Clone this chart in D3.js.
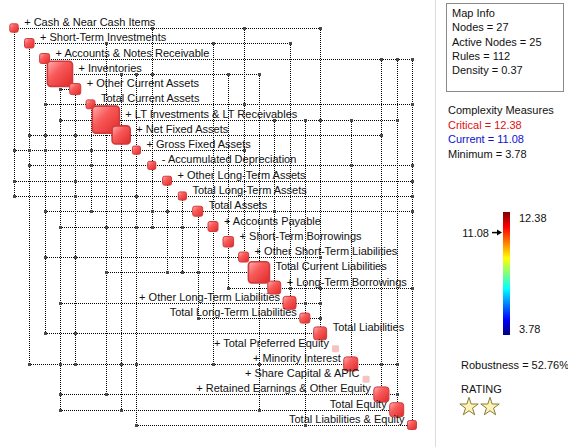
<!DOCTYPE html>
<html>
<head>
<meta charset="utf-8">
<script src="https://cdn.jsdelivr.net/npm/d3@7"></script>
<style>
body { margin: 0; background: #fff; }
svg { display: block; font-family: "Liberation Sans", Arial, sans-serif; }
</style>
</head>
<body>
<div id="chart"></div>
<script>
const width = 568
const height = 447

// nodes, in map order
const nodeNames = [
    'Cash & Near Cash Items', 'Short-Term Investments', 'Accounts & Notes Receivable', 'Inventories',
    'Other Current Assets', 'Total Current Assets', 'LT Investments & LT Receivables', 'Net Fixed Assets',
    'Gross Fixed Assets', 'Accumulated Depreciation', 'Other Long-Term Assets', 'Total Long-Term Assets',
    'Total Assets', 'Accounts Payable', 'Short-Term Borrowings', 'Other Short-Term Liabilities',
    'Total Current Liabilities', 'Long-Term Borrowings', 'Other Long-Term Liabilities', 'Total Long-Term Liabilities',
    'Total Liabilities', 'Total Preferred Equity', 'Minority Interest', 'Share Capital & APIC',
    'Retained Earnings & Other Equity', 'Total Equity', 'Total Liabilities & Equity'
]
const nodeSign = ['+', '+', '+', '+', '+', '', '+', '+', '+', '-', '+', '', '', '+', '+', '+', '', '+', '+', '', '', '+', '+', '+', '+', '', '']
const nodeWeight = [0.31, 0.35, 0.37, 0.93, 0.41, 0.33, 1.0, 0.67, 0.30, 0.30, 0.33, 0.30, 0.37, 0.37,
    0.39, 0.37, 0.78, 0.48, 0.48, 0.37, 0.48, 0.26, 0.52, 0.26, 0.56, 0.52, 0.33]
const inactiveNodes = [22, 24]

// rules: [row node, column node]
const links = [
    [1, 10], [1, 16], [1, 21],
    [2, 7], [2, 14], [2, 19],
    [3, 25], [3, 26], [3, 27],
    [4, 8], [4, 9], [4, 10], [4, 15], [4, 17],
    [5, 4],
    [6, 3], [6, 16], [6, 27],
    [7, 4], [7, 18], [7, 20], [7, 21], [7, 23], [7, 26],
    [8, 2], [8, 3], [8, 5], [8, 25],
    [9, 1], [9, 2], [9, 3], [9, 6], [9, 16],
    [10, 2], [10, 6], [10, 23], [10, 27],
    [11, 1], [11, 5], [11, 27],
    [12, 1], [12, 5], [12, 9], [12, 27],
    [13, 3], [13, 6], [13, 10], [13, 11], [13, 18], [13, 27],
    [14, 4], [14, 7], [14, 9], [14, 10], [14, 12],
    [16, 3], [16, 5], [16, 21],
    [17, 7], [17, 11], [17, 12], [17, 13],
    [18, 15], [18, 19], [18, 21], [18, 27],
    [19, 4], [19, 20], [19, 21],
    [20, 13], [20, 21],
    [21, 3], [21, 5],
    [23, 2], [23, 4], [23, 5], [23, 8], [23, 9], [23, 14], [23, 17], [23, 25], [23, 26],
    [25, 4], [25, 7], [25, 26],
    [26, 4], [26, 8], [26, 17],
    [27, 9], [27, 20]
]

const mapInfo = ['Map Info', 'Nodes = 27', 'Active Nodes = 25', 'Rules = 112', 'Density = 0.37']
const criticalC = 12.38
const currentC = 11.08
const minimumC = 3.78
const robustness = 52.76
const stars = 2

// labels drawn on the left of the node
const leftLabels = [19, 20, 22, 23, 24, 25, 26, 27]

const svg = d3.select('#chart')
    .append('svg')
    .attr('width', width)
    .attr('height', height)

const defs = svg.append('defs')
const grad = defs.append('linearGradient')
    .attr('id', 'nodeFill')
    .attr('x1', '0%').attr('y1', '0%').attr('x2', '100%').attr('y2', '100%')
grad.append('stop').attr('offset', '0%').attr('stop-color', '#ffb0b0')
grad.append('stop').attr('offset', '40%').attr('stop-color', '#f85a5a')
grad.append('stop').attr('offset', '100%').attr('stop-color', '#e02828')

const n = nodeNames.length
const x = d3.scaleLinear().domain([1, n]).range([14, 412])
const y = d3.scaleLinear().domain([1, n]).range([28, 425])
const size = d3.scaleLinear().domain([0, 1]).range([0, 27])
const px = v => Math.round(v) + 0.5

const idx = d3.range(1, n + 1)

// dotted grid lines: each row spans its links, each column too
const lineG = svg.append('g')
    .attr('stroke', '#000')
    .attr('stroke-width', 1)
    .attr('stroke-dasharray', '1,1')

idx.forEach(r => {
    const xs = links.filter(l => l[0] === r).map(l => x(l[1]))
    if (!xs.length) return
    xs.push(x(r))
    lineG.append('line')
        .attr('x1', Math.round(d3.min(xs))).attr('x2', Math.round(d3.max(xs)) + 1)
        .attr('y1', px(y(r))).attr('y2', px(y(r)))
})
idx.forEach(c => {
    const ys = links.filter(l => l[1] === c).map(l => y(l[0]))
    if (!ys.length) return
    ys.push(y(c))
    lineG.append('line')
        .attr('x1', px(x(c))).attr('x2', px(x(c)))
        .attr('y1', Math.round(d3.min(ys))).attr('y2', Math.round(d3.max(ys)) + 1)
})

// rule markers
svg.append('g').selectAll('rect')
    .data(links)
    .enter()
    .append('rect')
    .attr('x', d => Math.round(x(d[1])) - 1)
    .attr('y', d => Math.round(y(d[0])) - 1)
    .attr('width', 3)
    .attr('height', 3)
    .attr('fill', '#4a4a4a')

// nodes
const nodeG = svg.append('g').selectAll('g')
    .data(idx)
    .enter()
    .append('g')

nodeG.append('rect')
    .attr('x', d => x(d) - size(nodeWeight[d - 1]) / 2)
    .attr('y', d => y(d) - size(nodeWeight[d - 1]) / 2)
    .attr('width', d => size(nodeWeight[d - 1]))
    .attr('height', d => size(nodeWeight[d - 1]))
    .attr('rx', d => Math.min(3.5, size(nodeWeight[d - 1]) / 5))
    .attr('fill', d => inactiveNodes.includes(d) ? '#f6c2c2' : 'url(#nodeFill)')
    .attr('stroke', d => inactiveNodes.includes(d) ? 'none' : '#d03a3a')
    .attr('stroke-width', d => nodeWeight[d - 1] > 0.6 ? 1.6 : 1)

// node labels
svg.append('g').selectAll('text')
    .data(idx)
    .enter()
    .append('text')
    .attr('font-size', 11)
    .attr('fill', '#111')
    .attr('x', d => {
        const h = size(nodeWeight[d - 1]) / 2
        return leftLabels.includes(d) ? x(d) - h - 3 : x(d) + h + 6
    })
    .attr('y', d => y(d) - 2)
    .attr('text-anchor', d => leftLabels.includes(d) ? 'end' : 'start')
    .text(d => (nodeSign[d - 1] ? nodeSign[d - 1] + ' ' : '') + nodeNames[d - 1])

// right panel
svg.append('line')
    .attr('x1', 435.5).attr('x2', 435.5)
    .attr('y1', 0).attr('y2', height)
    .attr('stroke', '#dcdcdc')

svg.append('rect')
    .attr('x', 446.5).attr('y', 3.5)
    .attr('width', 117).attr('height', 88)
    .attr('fill', 'none')
    .attr('stroke', '#8a8a8a')

svg.append('g').selectAll('text')
    .data(mapInfo)
    .enter()
    .append('text')
    .attr('x', 452)
    .attr('y', (d, i) => 17 + i * 14.3)
    .attr('font-size', 11)
    .attr('fill', '#111')
    .text(d => d)

const measures = [
    ['Complexity Measures', '#111'],
    ['Critical = ' + criticalC.toFixed(2), '#e01010'],
    ['Current = ' + currentC.toFixed(2), '#1010d0'],
    ['Minimum = ' + minimumC.toFixed(2), '#111']
]
svg.append('g').selectAll('text')
    .data(measures)
    .enter()
    .append('text')
    .attr('x', 448)
    .attr('y', (d, i) => 114 + i * 14.5)
    .attr('font-size', 11)
    .attr('fill', d => d[1])
    .text(d => d[0])

// colour bar (jet)
const jet = ['#00007f', '#0000ff', '#00ffff', '#ffff00', '#ff0000', '#7f0000']
const jetPos = [0, 0.125, 0.375, 0.625, 0.875, 1]
const barGrad = defs.append('linearGradient')
    .attr('id', 'jet')
    .attr('x1', 0).attr('y1', 1).attr('x2', 0).attr('y2', 0)
jet.forEach((c, i) => barGrad.append('stop').attr('offset', jetPos[i]).attr('stop-color', c))

const cScale = d3.scaleLinear().domain([minimumC, criticalC]).range([335, 212])
svg.append('rect')
    .attr('x', 503).attr('y', cScale(criticalC))
    .attr('width', 7).attr('height', cScale(minimumC) - cScale(criticalC))
    .attr('fill', 'url(#jet)')

svg.append('text').attr('x', 519).attr('y', cScale(criticalC) + 10)
    .attr('font-size', 11).attr('fill', '#111').text(criticalC.toFixed(2))
svg.append('text').attr('x', 519).attr('y', cScale(minimumC) - 2)
    .attr('font-size', 11).attr('fill', '#111').text(minimumC.toFixed(2))

const cy = cScale(currentC) + 2
svg.append('line')
    .attr('x1', 492).attr('x2', 498)
    .attr('y1', cy).attr('y2', cy)
    .attr('stroke', '#000').attr('stroke-width', 1.5)
svg.append('path')
    .attr('d', `M497,${cy - 3}L502,${cy}L497,${cy + 3}Z`)
    .attr('fill', '#000')
svg.append('text').attr('x', 489).attr('y', cy + 4.5)
    .attr('text-anchor', 'end')
    .attr('font-size', 11).attr('fill', '#111').text(currentC.toFixed(2))

svg.append('text').attr('x', 461).attr('y', 369)
    .attr('font-size', 11).attr('fill', '#111').text('Robustness = ' + robustness.toFixed(2) + '%')
svg.append('text').attr('x', 461).attr('y', 393)
    .attr('font-size', 11).attr('fill', '#111').text('RATING')

svg.append('g').selectAll('path')
    .data(d3.range(stars))
    .enter()
    .append('path')
    .attr('transform', d => `translate(${469 + d * 21},407)`)
    .attr('d', d3.symbol(d3.symbolStar).size(105))
    .attr('fill', '#fdf3b6')
    .attr('stroke', '#8a7a3a')
    .attr('stroke-width', 1)
</script>
</body>
</html>
